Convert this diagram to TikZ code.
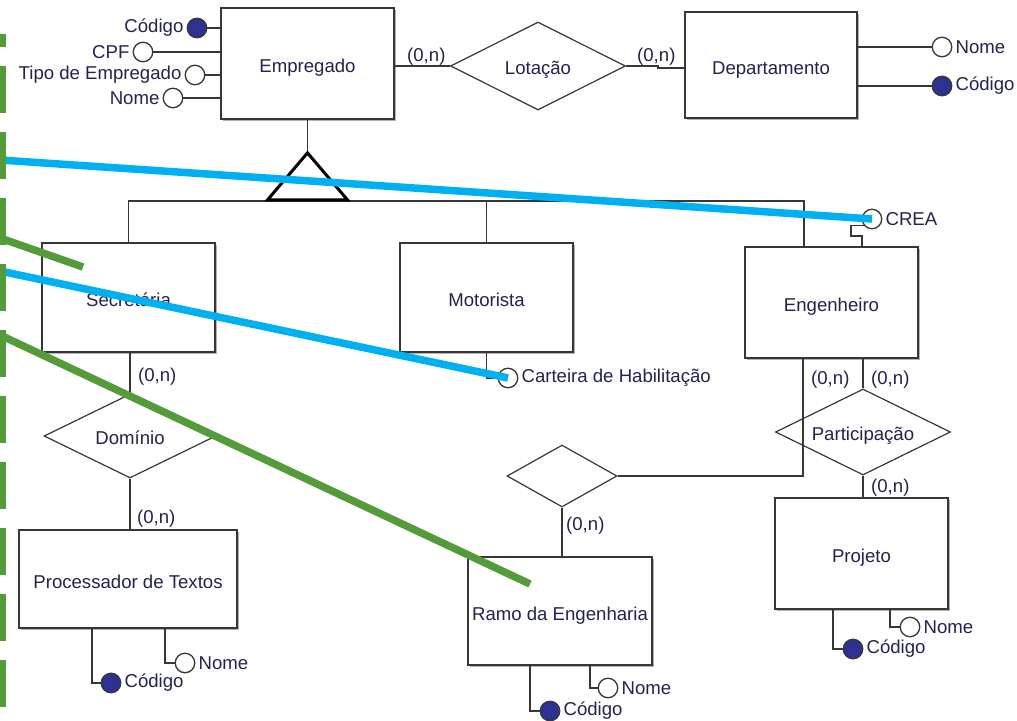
\documentclass[tikz,border=0pt]{standalone}
\usepackage{fontspec}
\setmainfont{Liberation Sans}
\usetikzlibrary{shapes.geometric,calc,shadows}
\definecolor{txt}{RGB}{35,35,75}
\definecolor{ln}{RGB}{55,55,55}
\definecolor{navy}{RGB}{46,49,146}
\definecolor{hlblue}{RGB}{0,176,240}
\definecolor{hlgreen}{RGB}{84,156,58}
\begin{document}
\begin{tikzpicture}[x=1pt,y=-1pt, font=\fontsize{18.6}{21}\selectfont, text=txt,
 entity/.style={draw=ln, line width=1.8pt, fill=white, rectangle, inner sep=0pt,
   text height=18pt, text depth=0pt,
   drop shadow={shadow xshift=2pt, shadow yshift=-2pt, opacity=0.3, fill=black}},
 rel/.style={draw=ln, line width=1.2pt, diamond, shape aspect=2, inner sep=0pt, fill=white,
   text height=16pt, text depth=0pt},
 attr/.style={circle, draw=ln, line width=1.3pt, fill=white, minimum size=19.5pt, inner sep=0pt},
 keyattr/.style={attr, fill=navy},
 lbl/.style={inner sep=3pt},
 card/.style={inner sep=0pt, anchor=west},
 conn/.style={draw=ln, line width=1.4pt},
 hlb/.style={draw=hlblue, line width=7.5pt},
 hlg/.style={draw=hlgreen, line width=7.5pt},
]
\useasboundingbox (0,0) rectangle (1017,720);

% entities
\node[entity, minimum width=173pt, minimum height=111pt] (emp) at (307.5,63.5) {Empregado};
\node[entity, minimum width=172pt, minimum height=106pt] (dep) at (771,65) {Departamento};
\node[entity, minimum width=173pt, minimum height=109pt] (sec) at (128.5,297.5) {Secretária};
\node[entity, minimum width=173pt, minimum height=109pt] (mot) at (486.5,297.5) {Motorista};
\node[entity, minimum width=173pt, minimum height=111pt] (eng) at (831.5,302.5) {Engenheiro};
\node[entity, minimum width=218pt, minimum height=98pt] (proc) at (128,579) {Processador de Textos};
\node[entity, minimum width=184pt, minimum height=108pt] (ramo) at (560,611) {Ramo da Engenharia};
\node[entity, minimum width=173pt, minimum height=111pt] (proj) at (861.5,553.5) {Projeto};

% relationships
\node[rel, minimum width=175pt, minimum height=88pt] (lot) at (538,66) {Lotação};
\node[rel, minimum width=172pt, minimum height=84pt] (dom) at (130,436) {Domínio};
\node[rel, minimum width=110pt, minimum height=62pt] (rd) at (562,476) {};
\node[rel, minimum width=175pt, minimum height=86pt] (par) at (863,432) {Participação};

% attributes
\node[keyattr] (ecod) at (197,28) {};
\node[attr] (ecpf) at (143,52) {};
\node[attr] (etipo) at (195,75) {};
\node[attr] (enome) at (173,98) {};
\node[lbl, anchor=east] (lecod) at (ecod.west) {Código};
\node[lbl, anchor=east] (lecpf) at (ecpf.west) {CPF};
\node[lbl, anchor=east] (letipo) at (etipo.west) {Tipo de Empregado};
\node[lbl, anchor=east] (lenome) at (enome.west) {Nome};

\node[attr] (dnome) at (942,47) {};
\node[keyattr] (dcod) at (942,86) {};
\node[lbl, anchor=west] (ldnome) at (dnome.east) {Nome};
\node[lbl, anchor=west] (ldcod) at (dcod.east) {Código};

\node[attr] (crea) at (872,219) {};
\node[lbl, anchor=west] (lcrea) at (crea.east) {CREA};

\node[attr] (cart) at (508,378) {};
\node[lbl, anchor=west] (lcart) at (cart.east) {Carteira de Habilitação};

\node[keyattr] (pcod) at (111,683) {};
\node[attr] (pnome) at (185,663) {};
\node[lbl, anchor=west] (lpcod) at (pcod.east) {Código};
\node[lbl, anchor=west] (lpnome) at (pnome.east) {Nome};

\node[keyattr] (rcod) at (550,711) {};
\node[attr] (rnome) at (608,688) {};
\node[lbl, anchor=west] (lrcod) at (rcod.east) {Código};
\node[lbl, anchor=west] (lrnome) at (rnome.east) {Nome};

\node[keyattr] (jcod) at (853,649) {};
\node[attr] (jnome) at (910,627) {};
\node[lbl, anchor=west] (ljcod) at (jcod.east) {Código};
\node[lbl, anchor=west] (ljnome) at (jnome.east) {Nome};

% attribute connectors
\draw[conn] (ecod.east) -- (ecod.east -| emp.west);
\draw[conn] (ecpf.east) -- (ecpf.east -| emp.west);
\draw[conn] (etipo.east) -- (etipo.east -| emp.west);
\draw[conn] (enome.east) -- (enome.east -| emp.west);
\draw[conn] (dnome.west) -- (dnome.west -| dep.east);
\draw[conn] (dcod.west) -- (dcod.west -| dep.east);
\draw[conn] ($(eng.north west)+(118,0)$) -- ++(0,-10) -- ++(-11,0) |- (crea.217);
\draw[conn] (mot.south) |- (cart.west);
\draw[conn] ($(proc.south west)+(74,0)$) |- (pcod.west);
\draw[conn] ($(proc.south west)+(147,0)$) |- (pnome.west);
\draw[conn] ($(ramo.south west)+(63,0)$) |- (rcod.west);
\draw[conn] ($(ramo.south west)+(123,0)$) |- (rnome.west);
\draw[conn] ($(proj.south west)+(59,0)$) |- (jcod.west);
\draw[conn] ($(proj.south west)+(116,0)$) |- (jnome.west);

% relationship connectors
\draw[conn] (lot.west) -- (lot.west -| emp.east);
\draw[conn] (lot.east) -- ++(32,0) -- ++(0,2) coordinate (lj) -- (lj -| dep.west);
\draw[conn] (dom.north) -- (dom.north |- sec.south);
\draw[conn] (dom.south) -- (dom.south |- proc.north);
\draw[conn] (rd.south) -- (rd.south |- ramo.north);
\draw[conn] (rd.east) -| ($(eng.south west)+(59,0)$);
\draw[conn] (par.north) -- (par.north |- eng.south);
\draw[conn] (par.south) -- (par.south |- proj.north);

% specialization
\coordinate (isa) at ($(emp.south)+(0,33)$);
\coordinate (bar) at ($(isa)+(0,48)$);
\coordinate (engt) at ($(eng.north west)+(60,0)$);
\draw[conn] (emp.south) -- (isa);
\draw[conn] (sec.north) |- (engt |- bar) -- (engt);
\draw[conn] (mot.north) -- (mot.north |- bar);
\draw[line width=3pt, black, line join=miter] (isa) -- ++(-40,47) -- ++(80,0) -- cycle;

% cardinalities
\node[card] (c1) at (407,57) {(0,n)};
\node[card] (c2) at (637,57) {(0,n)};
\node[card] (c3) at (138,377) {(0,n)};
\node[card] (c4) at (137,519) {(0,n)};
\node[card] (c5) at (566,526) {(0,n)};
\node[card] (c6) at (811,380) {(0,n)};
\node[card] (c7) at (871,380) {(0,n)};
\node[card] (c8) at (871,488) {(0,n)};

% overlay marks
\coordinate (b1) at (0,160);
\coordinate (b2) at (0,271);
\draw[hlb] (b1) -- (crea.center);
\draw[hlb] (b2) -- (cart.center);
\coordinate (g0) at (2,34);
\coordinate (g1) at (2,720);
\draw[hlg, line width=7pt, dash pattern=on 47pt off 19pt, dash phase=34pt] (g0) -- (g1);
\coordinate (g2) at (0,238);
\coordinate (g3) at (83,267);
\draw[hlg] (g2) -- (g3);
\coordinate (g4) at (0,335);
\coordinate (g5) at (530,584);
\draw[hlg] (g4) -- (g5);
\end{tikzpicture}
\end{document}
